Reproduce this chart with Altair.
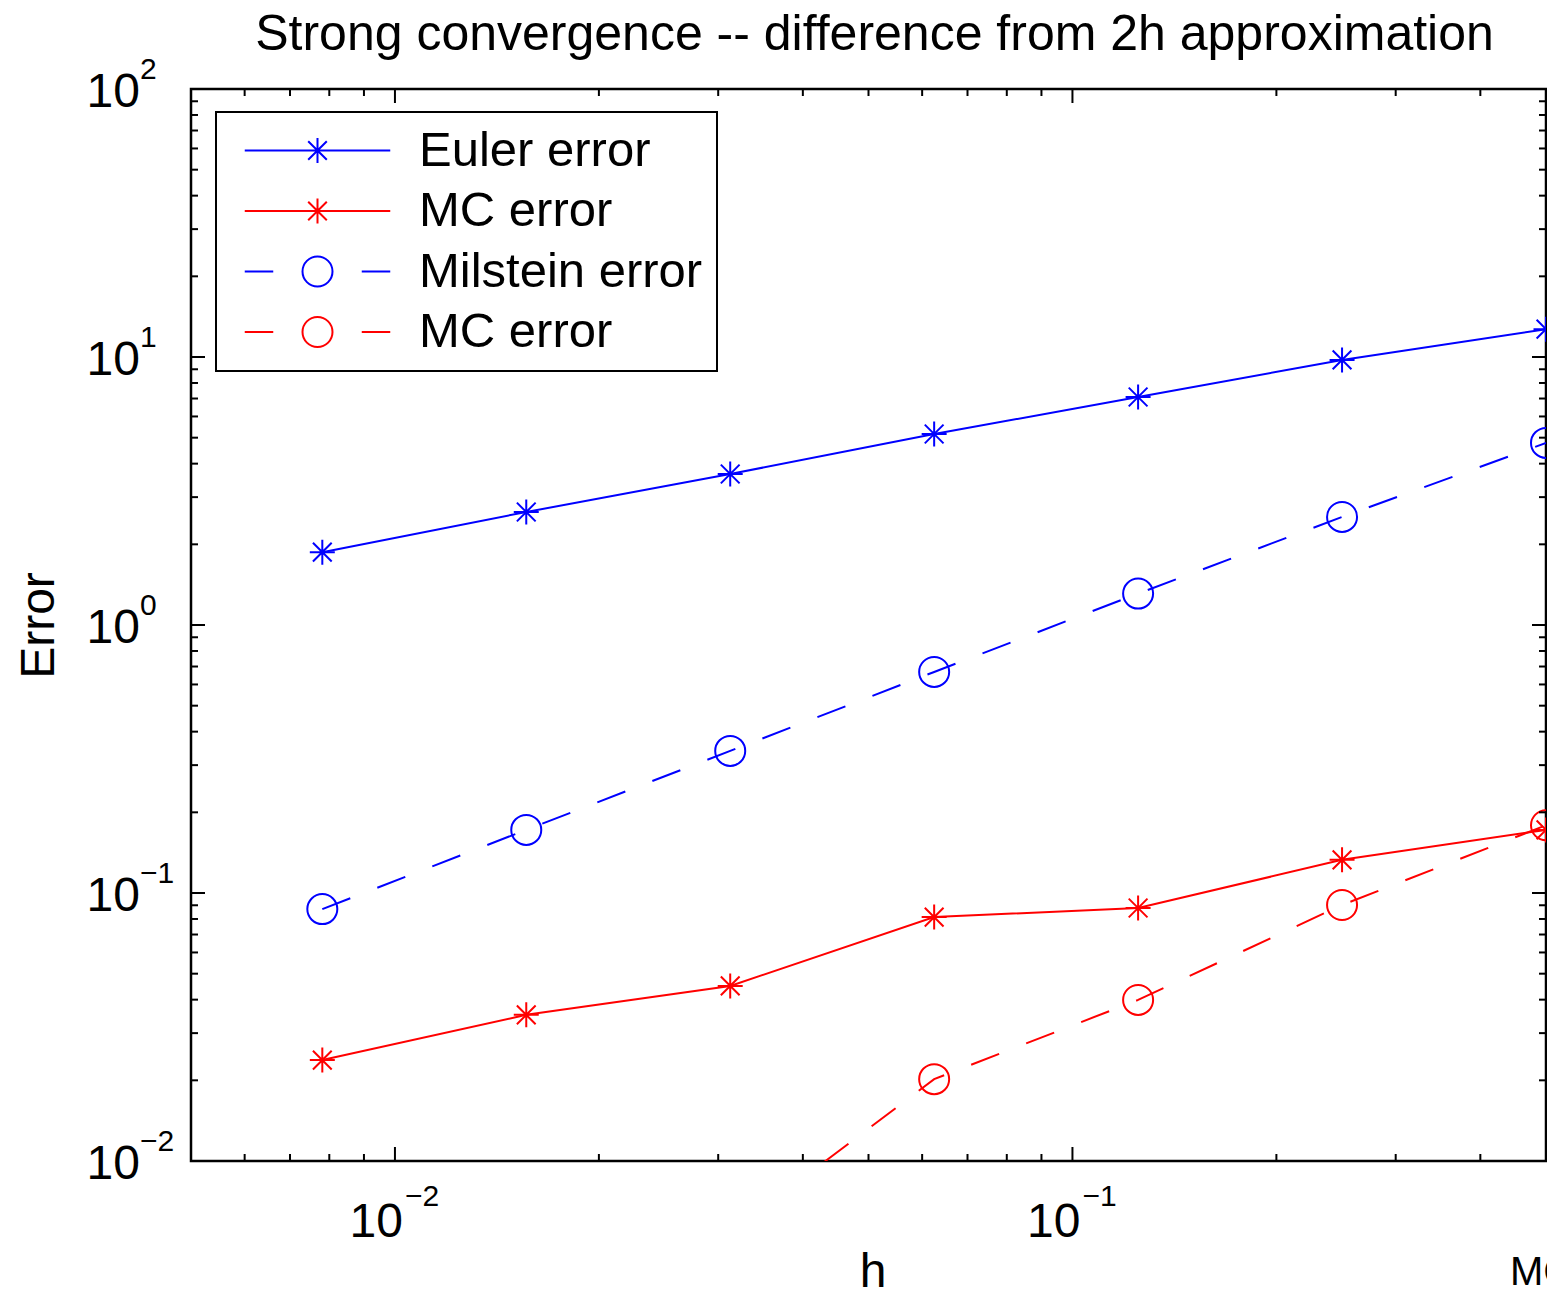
import altair as alt
import pandas as pd

# ---------------- data ----------------
h_vals = [1/128, 1/64, 1/32, 1/16, 1/8, 1/4, 1/2]
euler_err = [1.87, 2.64, 3.66, 5.16, 7.09, 9.75, 12.7]
euler_mc_err = [0.0238, 0.0351, 0.0450, 0.0813, 0.0879, 0.133, 0.172]
milstein_err = [0.0871, 0.172, 0.339, 0.668, 1.31, 2.53, 4.78]
milstein_mc_h = [1/32, 1/16, 1/8, 1/4, 1/2]
milstein_mc_err = [0.0054, 0.0202, 0.0399, 0.0902, 0.179]

series_keys = ["Euler error", "MC error (Euler)", "Milstein error", "MC error (Milstein)"]
series_colors = ["#0000ff", "#ff0000", "#0000ff", "#ff0000"]

y_label_exps = [-2, -1, 0, 1, 2]
x_label_exps = [-2, -1]
exp_text = {-2: "\u22122", -1: "\u22121", 0: "0", 1: "1", 2: "2"}
x_minor_vals = [0.006, 0.007, 0.008, 0.009] + [k / 100 for k in range(2, 10)] + [0.2, 0.3, 0.4]
y_minor_vals = [k * 10.0 ** d for d in (-2, -1, 0, 1) for k in range(2, 10)]

TITLE = "Strong convergence -- difference from 2h approximation"
FONT = "Liberation Sans"

# ---------------- layout ----------------
W, H = 1355, 1072
MAJ, MIN = 14, 7

STAR = "M0,-1L0,1M-1,0L1,0M-0.75,-0.75L0.75,0.75M-0.75,0.75L0.75,-0.75"
CIRCLE = "circle"
LEG_STAR = ("M-4.85,0L4.85,0M0,-0.83L0,0.83M-0.62,-0.62L0.62,0.62M-0.62,0.62L0.62,-0.62")
LEG_CIRC = ("M-4.85,0L-2.95,0M2.95,0L4.85,0M-1,0A1,1 0 1,0 1,0A1,1 0 1,0 -1,0")
legend_shapes = [LEG_STAR, LEG_STAR, LEG_CIRC, LEG_CIRC]

# ---------------- tables ----------------
def frame(key, hs, es):
    return pd.DataFrame({"h": hs, "err": es, "series": key})

dfs = [
    frame(series_keys[0], h_vals, euler_err),
    frame(series_keys[1], h_vals, euler_mc_err),
    frame(series_keys[2], h_vals, milstein_err),
    frame(series_keys[3], milstein_mc_h, milstein_mc_err),
]
df_all = pd.concat(dfs, ignore_index=True)

x_axis = alt.Axis(labels=False, ticks=False, domain=False, grid=False, title="h",
                  titleFont=FONT, titleFontSize=48, titleFontWeight="normal", titleColor="black",
                  titleX=W / 2 + 4, titleY=125, titleBaseline="alphabetic", titleAlign="center")
y_axis = alt.Axis(labels=False, ticks=False, domain=False, grid=False, title="Error",
                  titleFont=FONT, titleFontSize=48, titleFontWeight="normal", titleColor="black",
                  titleX=-138, titleY=H / 2, titleAngle=270, titleBaseline="alphabetic",
                  titleAlign="center")
xs = alt.Scale(type="log", domain=[0.005, 0.5], nice=False)
ys = alt.Scale(type="log", domain=[0.01, 100], nice=False)
X = alt.X("h:Q", scale=xs, axis=x_axis)
Y = alt.Y("err:Q", scale=ys, axis=y_axis)

layers = []
styles = [
    dict(dash=None, shape=STAR, size=625),
    dict(dash=None, shape=STAR, size=625),
    dict(dash=[30, 29], shape=CIRCLE, size=900),
    dict(dash=[30, 29], shape=CIRCLE, size=900),
]
for d, col, st in zip(dfs, series_colors, styles):
    kw = dict(color=col, strokeWidth=2, clip=True)
    if st["dash"]:
        kw["strokeDash"] = st["dash"]
    layers.append(alt.Chart(d).mark_line(**kw).encode(x=X, y=Y))
for d, col, st in zip(dfs, series_colors, styles):
    layers.append(alt.Chart(d).mark_point(shape=st["shape"], size=st["size"], filled=False,
                                          color=col, strokeWidth=2, opacity=1, clip=True)
                  .encode(x=X, y=Y))

legend = alt.Legend(orient="none", legendX=25, legendY=23, title=None,
                    labelFont=FONT, labelFontSize=49, labelColor="black", labelLimit=0,
                    labelExpr="split(datum.label, ' (')[0]",
                    symbolSize=900, symbolStrokeWidth=2, symbolOffset=63, labelOffset=77,
                    symbolOpacity=1, symbolFillColor="transparent",
                    padding=14, rowPadding=10.5, strokeColor="black", fillColor="white")
layers.append(
    alt.Chart(df_all).mark_point(opacity=0, filled=False).encode(
        x=X, y=Y,
        color=alt.Color("series:N", scale=alt.Scale(domain=series_keys, range=series_colors),
                        legend=legend),
        shape=alt.Shape("series:N", scale=alt.Scale(domain=series_keys, range=legend_shapes),
                        legend=legend),
    )
)

# ---------------- inward ticks on all four sides ----------------
ytick_major = pd.DataFrame({"err": [10.0 ** e for e in y_label_exps[1:-1]]})
ytick_minor = pd.DataFrame({"err": y_minor_vals})
xtick_major = pd.DataFrame({"h": [10.0 ** e for e in x_label_exps]})
xtick_minor = pd.DataFrame({"h": x_minor_vals})
rule = dict(color="black", strokeWidth=2)
for dfy, L in ((ytick_major, MAJ), (ytick_minor, MIN)):
    layers.append(alt.Chart(dfy).mark_rule(**rule).encode(y=Y, x=alt.value(0), x2=alt.value(L)))
    layers.append(alt.Chart(dfy).mark_rule(**rule).encode(y=Y, x=alt.value(W), x2=alt.value(W - L)))
for dfx, L in ((xtick_major, MAJ), (xtick_minor, MIN)):
    layers.append(alt.Chart(dfx).mark_rule(**rule).encode(x=X, y=alt.value(H), y2=alt.value(H - L)))
    layers.append(alt.Chart(dfx).mark_rule(**rule).encode(x=X, y=alt.value(0), y2=alt.value(L)))

# ---------------- tick labels 10^n ----------------
ylab = pd.DataFrame({"err": [10.0 ** e for e in y_label_exps],
                     "base": "10", "exp": [exp_text[e] for e in y_label_exps]})
xlab = pd.DataFrame({"h": [10.0 ** e for e in x_label_exps],
                     "base": "10", "exp": [exp_text[e] for e in x_label_exps]})
txt = dict(font=FONT, color="black")
layers.append(alt.Chart(ylab).mark_text(align="right", baseline="alphabetic", fontSize=48, dy=18, **txt)
              .encode(y=Y, x=alt.value(-51), text="base:N"))
layers.append(alt.Chart(ylab).mark_text(align="left", baseline="alphabetic", fontSize=30, dy=-10, **txt)
              .encode(y=Y, x=alt.value(-51), text="exp:N"))
layers.append(alt.Chart(xlab).mark_text(align="right", baseline="alphabetic", fontSize=48, dx=8, dy=76, **txt)
              .encode(x=X, y=alt.value(H), text="base:N"))
layers.append(alt.Chart(xlab).mark_text(align="left", baseline="alphabetic", fontSize=30, dx=10, dy=45, **txt)
              .encode(x=X, y=alt.value(H), text="exp:N"))

# clipped label of a neighbouring panel at the bottom right
mc = pd.DataFrame({"t": ["MC"]})
layers.append(alt.Chart(mc).mark_text(align="left", baseline="alphabetic", fontSize=40, **txt)
              .encode(x=alt.value(1319), y=alt.value(1196), text="t:N"))

chart = (
    alt.layer(*layers)
    .properties(
        width=W, height=H,
        title=alt.TitleParams(text=TITLE, font=FONT, fontSize=50, fontWeight="normal",
                              color="black", anchor="middle", baseline="alphabetic",
                              offset=-45, dx=6, frame="group"),
        autosize=alt.AutoSizeParams(type="none"),
        padding={"left": 183, "top": 81, "right": 1, "bottom": 129},
        background="white",
    )
    .configure_view(stroke="black", strokeWidth=2.5)
    .configure_legend(strokeWidth=2)
)

chart.save("out.html", embed_options={"renderer": "svg", "actions": False})
